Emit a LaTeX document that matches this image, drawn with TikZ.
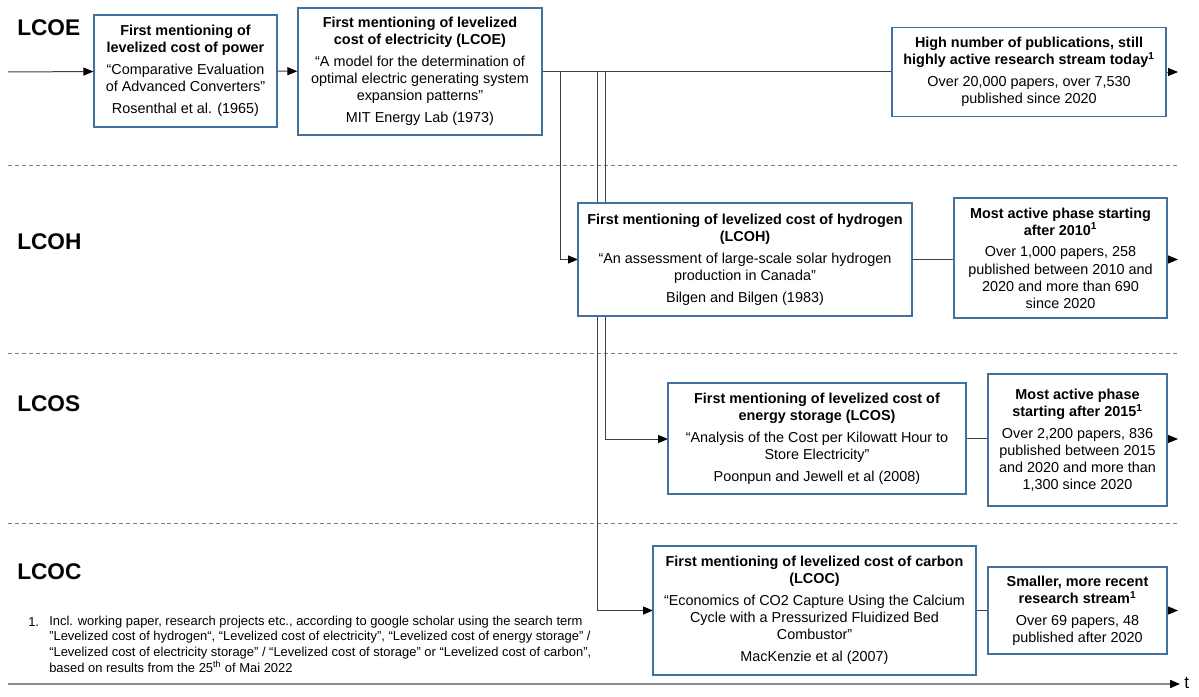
\documentclass[tikz,border=0pt]{standalone}
\usepackage{fontspec}
\setmainfont{Liberation Sans}
\usetikzlibrary{arrows.meta}
\definecolor{boxblue}{RGB}{65,113,156}
\definecolor{lngray}{RGB}{64,64,64}
\definecolor{sepgray}{RGB}{128,128,128}
\definecolor{axgray}{RGB}{140,140,140}
\newcommand\bxfont{\fontsize{10.8}{12.8}\selectfont}
\newcommand\fnfont{\fontsize{9.7}{11.8}\selectfont}
\newcommand\gp{\\[3.5pt]}
\newcommand\sq{\char34\relax}
\tikzset{
  bbox/.style={draw=boxblue, line width=0.9pt, fill=white, align=center, inner sep=0pt, font=\bxfont},
  ln/.style={draw=lngray, line width=0.75pt},
  arr/.style={ln, -{Triangle[length=7.5pt,width=6pt,color=black]}},
  sepline/.style={draw=sepgray, line width=0.75pt, dash pattern=on 3pt off 2.2pt},
  lab/.style={font=\fontsize{17}{20}\selectfont\bfseries, anchor=west, inner sep=0pt},
}
\begin{document}
\begin{tikzpicture}[x=0.75pt,y=-0.75pt]
\useasboundingbox (0,0) rectangle (1199,696);
% labels
\node[lab] (lE) at (17,28) {LCOE};
\node[lab] (lH) at (17,242) {LCOH};
\node[lab] (lS) at (17,404) {LCOS};
\node[lab] (lC) at (17,572) {LCOC};
% separators
\draw[sepline] (8,165) -- (1178,165);
\draw[sepline] (8,353) -- (1178,353);
\draw[sepline] (8,523) -- (1178,523);
% junctions and ends
\coordinate (in0) at (8,72);
\coordinate (jH) at (560,72);
\coordinate (jC) at (597,72);
\coordinate (jS) at (605,72);
\coordinate (oE) at (1178,72);
\coordinate (oH) at (1178,259.5);
\coordinate (oS) at (1178,439);
\coordinate (oC) at (1178,610.5);
\coordinate (ax0) at (8,684);
\coordinate (ax1) at (1180,684);
% branch lines (behind boxes)
\draw[arr] (jH) |- (578,259.5);
\draw[arr] (jS) |- (668,439);
\draw[arr] (jC) |- (653,610.5);
% boxes
\node[bbox, minimum width=137.25pt, minimum height=84pt] (B1) at (185.5,71) {\textbf{First mentioning of}\\\textbf{levelized cost of power}\gp “Comparative Evaluation\\of Advanced Converters”\gp Rosenthal et al. (1965)};
\node[bbox, minimum width=183pt, minimum height=95.25pt] (B2) at (420,71.5) {\textbf{First mentioning of levelized}\\\textbf{cost of electricity (LCOE)}\gp “A model for the determination of\\optimal electric generating system\\expansion patterns”\gp MIT Energy Lab (1973)};
\node[bbox, minimum width=205.5pt, minimum height=66.75pt] (B3) at (1029,72) {\textbf{High number of publications, still}\\\textbf{highly active research stream today\textsuperscript{1}}\gp Over 20,000 papers, over 7,530\\published since 2020};
\node[bbox, minimum width=250.5pt, minimum height=84.75pt] (H1) at (745,259.5) {\textbf{First mentioning of levelized cost of hydrogen}\\\textbf{(LCOH)}\gp “An assessment of large-scale solar hydrogen\\production in Canada”\gp Bilgen and Bilgen (1983)};
\node[bbox, minimum width=159.75pt, minimum height=90pt] (H2) at (1060.5,258) {\textbf{Most active phase starting}\\\textbf{after 2010\textsuperscript{1}}\gp Over 1,000 papers, 258\\published between 2010 and\\2020 and more than 690\\since 2020};
\node[bbox, minimum width=223.5pt, minimum height=83.25pt] (S1) at (817,438.5) {\textbf{First mentioning of levelized cost of}\\\textbf{energy storage (LCOS)}\gp “Analysis of the Cost per Kilowatt Hour to\\Store Electricity”\gp Poonpun and Jewell et al (2008)};
\node[bbox, minimum width=134.25pt, minimum height=99pt] (S2) at (1077.5,440) {\textbf{Most active phase}\\\textbf{starting after 2015\textsuperscript{1}}\gp Over 2,200 papers, 836\\published between 2015\\and 2020 and more than\\1,300 since 2020};
\node[bbox, minimum width=242.25pt, minimum height=96.75pt] (C1) at (814.5,610.5) {\textbf{First mentioning of levelized cost of carbon}\\\textbf{(LCOC)}\gp “Economics of CO2 Capture Using the Calcium\\Cycle with a Pressurized Fluidized Bed\\Combustor”\gp MacKenzie et al (2007)};
\node[bbox, minimum width=134.25pt, minimum height=65.25pt] (C2) at (1077.5,610.5) {\textbf{Smaller, more recent}\\\textbf{research stream\textsuperscript{1}}\gp Over 69 papers, 48\\published after 2020};
% connectors
\draw[arr] (in0) -- (B1);
\draw[arr] (B1) -- (B2);
\draw[ln] (B2.east) -- (B2.east -| B3.west);
\draw[arr] (B3) -- (oE);
\draw[ln] (H1.east) -- (H1.east -| H2.west);
\draw[arr] (H2.east |- oH) -- (oH);
\draw[ln] (S1.east) -- (S1.east -| S2.west);
\draw[arr] (S2.east |- oS) -- (oS);
\draw[ln] (C1) -- (C2);
\draw[arr] (C2) -- (oC);
% footnote
\node[anchor=west, inner sep=0pt, font=\fnfont] (fn1) at (28,622) {1.};
\node[anchor=north west, inner sep=0pt, align=left, font=\fnfont] (fn) at (49,615.5) {Incl. working paper, research projects etc., according to google scholar using the search term\\\sq Levelized cost of hydrogen“, “Levelized cost of electricity”, “Levelized cost of energy storage” /\\“Levelized cost of electricity storage\sq{} / “Levelized cost of storage\sq{} or “Levelized cost of carbon”,\\based on results from the 25\textsuperscript{th} of Mai 2022};
% time axis
\draw[draw=axgray, line width=1.5pt, -{Triangle[length=7.5pt,width=6pt,color=black]}] (ax0) -- (ax1);
\node[anchor=west, inner sep=0pt, font=\fontsize{13}{15}\selectfont] (t) at (1184,683) {t};
\end{tikzpicture}
\end{document}
